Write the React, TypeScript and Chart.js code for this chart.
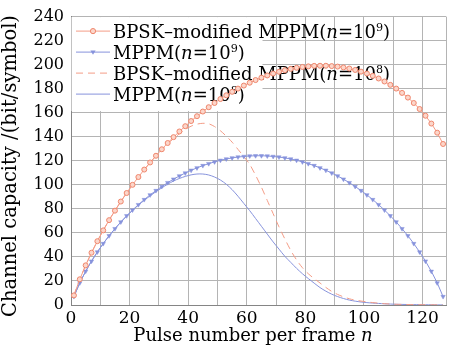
import React, { useEffect, useRef } from "react";
import { Chart, registerables } from "chart.js";

Chart.register(...registerables);

// Pulse number per frame (x values of the sampled points)
const nValues = [
  1, 3, 5, 7, 9, 11, 13, 15, 17, 19, 21, 23, 25, 27, 29, 31,
  33, 35, 37, 39, 41, 43, 45, 47, 49, 51, 53, 55, 57, 59, 61, 63,
  65, 67, 69, 71, 73, 75, 77, 79, 81, 83, 85, 87, 89, 91, 93, 95,
  97, 99, 101, 103, 105, 107, 109, 111, 113, 115, 117, 119, 121, 123, 125, 127,
];

// BPSK-modified MPPM (n=10^9)
const bpsk9 = [
  8, 21.4, 33, 43.5, 53.1, 62.1, 70.6, 78.5, 86.1, 93.2, 100, 106.5, 112.7, 118.6, 124.2, 129.6,
  134.8, 139.7, 144.4, 148.8, 153.1, 157.1, 161, 164.6, 168.1, 171.4, 174.5, 177.4, 180.1, 182.6, 185, 187.2,
  189.2, 191, 192.6, 194.1, 195.4, 196.5, 197.4, 198.1, 198.6, 199, 199.1, 199.1, 198.8, 198.4, 197.7, 196.8,
  195.6, 194.2, 192.6, 190.7, 188.5, 186, 183.2, 180.1, 176.5, 172.6, 168.1, 163.1, 157.5, 151, 143.4, 134,
];

// MPPM (n=10^9)
const mppm9 = [
  7, 18.4, 28, 36.5, 44.1, 51.1, 57.6, 63.5, 69.1, 74.2, 79, 83.5, 87.7, 91.6, 95.2, 98.6,
  101.8, 104.7, 107.4, 109.8, 112.1, 114.1, 116, 117.6, 119.1, 120.4, 121.5, 122.4, 123.1, 123.6, 124, 124.2,
  124.2, 124, 123.6, 123.1, 122.4, 121.5, 120.4, 119.1, 117.6, 116, 114.1, 112.1, 109.8, 107.4, 104.7, 101.8,
  98.6, 95.2, 91.6, 87.7, 83.5, 79, 74.2, 69.1, 63.5, 57.6, 51.1, 44.1, 36.5, 28, 18.4, 7,
];

// BPSK-modified MPPM (n=10^8)
const bpsk8 = [
  8, 21.4, 33, 43.5, 53.1, 62.1, 70.6, 78.5, 86.1, 93.2, 100, 106.5, 112.6, 118.4, 123.9, 129.1,
  134, 138.5, 142.5, 146, 148.8, 150.5, 151.2, 150.8, 148.5, 145, 140.5, 135.5, 129.5, 123.5, 117, 108,
  98, 87, 76, 65, 55, 45.5, 37.5, 31, 26, 22, 18.3, 14.6, 11.3, 8.8, 6.8, 5.2,
  4, 3.3, 2.6, 2, 1.5, 1.1, 0.8, 0.6, 0.5, 0.4, 0.3, 0.3, 0.2, 0.2, 0.1, 0.1,
];

// MPPM (n=10^8)
const mppm8 = [
  7, 18.4, 28, 36.5, 44.1, 51.1, 57.5, 63.4, 68.9, 74, 78.7, 83.1, 87.1, 90.8, 94.3, 97.5,
  100.5, 103.2, 105.3, 107, 108.3, 109, 109, 108.2, 106.5, 104, 100.5, 96, 90.5, 84.5, 78.5, 72,
  65.5, 59, 52.5, 46.5, 40.5, 35.5, 30.5, 26, 22, 18.2, 14.5, 11.5, 9, 7, 5.4, 4.1,
  3.2, 2.5, 2, 1.6, 1.3, 1, 0.8, 0.6, 0.5, 0.4, 0.3, 0.3, 0.2, 0.2, 0.1, 0.1,
];

const xGridValues = [0, 10, 20, 30, 40, 50, 60, 70, 80, 90, 100, 110, 120, 128];
const xLabelValues = [0, 20, 40, 60, 80, 100, 120];
const yTickValues = [0, 20, 40, 60, 80, 100, 120, 140, 160, 180, 200, 220, 240];

const seriesNames = [
  "BPSK–modified MPPM(n=10^9)",
  "MPPM(n=10^9)",
  "BPSK–modified MPPM(n=10^8)",
  "MPPM(n=10^8)",
];
const legendPrefix = ["BPSK–modified MPPM(", "MPPM(", "BPSK–modified MPPM(", "MPPM("];
const legendExponent = ["9", "9", "8", "8"];
const xTitle = "Pulse number per frame ";
const xTitleVar = "n";
const yTitle = "Channel capacity /(bit/symbol)";

const FONT = '"DejaVu Serif"';
const ORANGE = "#f49c86";
const ORANGE_DARK = "#ef866c";
const ORANGE_FILL = "#fcd6ca";
const BLUE = "#8793dc";
const GRID = "#b4b4b4";
const AXIS = "#858585";

type Part = { t: string; i?: boolean; s?: boolean };

function drawRich(ctx: CanvasRenderingContext2D, x: number, y: number, parts: Part[], size: number) {
  let cx = x;
  for (const p of parts) {
    const fs = p.s ? size * 0.62 : size;
    ctx.font = `${p.i ? "italic " : ""}${fs}px ${FONT}`;
    ctx.fillText(p.t, cx, p.s ? y - size * 0.42 : y);
    cx += ctx.measureText(p.t).width;
  }
}

function drawMarker(ctx: CanvasRenderingContext2D, kind: number, x: number, y: number) {
  ctx.save();
  ctx.lineWidth = 1;
  if (kind === 0) {
    ctx.beginPath();
    ctx.arc(x, y, 2.6, 0, Math.PI * 2);
    ctx.fillStyle = ORANGE_FILL;
    ctx.strokeStyle = ORANGE_DARK;
    ctx.fill();
    ctx.stroke();
  } else if (kind === 1) {
    ctx.beginPath();
    ctx.moveTo(x - 2.6, y - 1.6);
    ctx.lineTo(x + 2.6, y - 1.6);
    ctx.lineTo(x, y + 2.6);
    ctx.closePath();
    ctx.fillStyle = BLUE;
    ctx.fill();
  }
  ctx.restore();
}

const legendPlugin = {
  id: "customLegend",
  beforeDatasetsDraw(chart: any) {
    const { ctx, chartArea } = chart;
    const L = chartArea.left;
    const T = chartArea.top;
    ctx.save();
    ctx.fillStyle = "#ffffff";
    ctx.fillRect(L + 0.5, T + 0.5, 191, 94);
    const colors = [ORANGE, BLUE, ORANGE, BLUE];
    for (let i = 0; i < 4; i++) {
      const cy = T + 14 + 21 * i + 0.5;
      ctx.beginPath();
      ctx.strokeStyle = colors[i];
      ctx.lineWidth = 1;
      ctx.setLineDash(i === 2 ? [7, 5] : []);
      ctx.moveTo(L + 5, cy);
      ctx.lineTo(L + 39, cy);
      ctx.stroke();
      ctx.setLineDash([]);
      drawMarker(ctx, i, L + 22, cy);
      ctx.fillStyle = "#000";
      ctx.textBaseline = "alphabetic";
      ctx.textAlign = "left";
      drawRich(
        ctx,
        L + 42,
        cy + 7,
        [
          { t: legendPrefix[i] },
          { t: "n", i: true },
          { t: "=10" },
          { t: legendExponent[i], s: true },
          { t: ")" },
        ],
        18
      );
    }
    ctx.restore();
  },
};

const titlePlugin = {
  id: "axisTitles",
  afterDraw(chart: any) {
    const { ctx } = chart;
    ctx.save();
    ctx.fillStyle = "#000";
    ctx.textBaseline = "alphabetic";
    ctx.textAlign = "left";
    ctx.font = `18px ${FONT}`;
    const w1 = ctx.measureText(xTitle).width;
    ctx.font = `italic 18px ${FONT}`;
    const w2 = ctx.measureText(xTitleVar).width;
    const startX = 253 - (w1 + w2) / 2;
    drawRich(ctx, startX, 341, [{ t: xTitle }, { t: xTitleVar, i: true }], 18);

    ctx.translate(11, 166);
    ctx.rotate(-Math.PI / 2);
    ctx.textAlign = "center";
    ctx.textBaseline = "middle";
    ctx.font = `19.5px ${FONT}`;
    ctx.fillText(yTitle, 0, 0);
    ctx.restore();
  },
};

export default function App() {
  const ref = useRef<HTMLCanvasElement>(null);

  useEffect(() => {
    const canvas = ref.current;
    if (!canvas) return;
    const pts = (ys: number[]) => nValues.map((n, i) => ({ x: n, y: ys[i] }));
    const chart = new Chart(canvas, {
      type: "line",
      data: {
        datasets: [
          {
            label: seriesNames[0],
            data: pts(bpsk9),
            borderColor: ORANGE,
            borderWidth: 1,
            pointStyle: "circle",
            pointRadius: 2.5,
            pointBorderColor: ORANGE_DARK,
            pointBackgroundColor: ORANGE_FILL,
            pointBorderWidth: 1,
            tension: 0,
          },
          {
            label: seriesNames[1],
            data: pts(mppm9),
            borderColor: BLUE,
            borderWidth: 1,
            pointStyle: "triangle",
            pointRotation: 180,
            pointRadius: 2.5,
            pointBorderColor: BLUE,
            pointBackgroundColor: BLUE,
            pointBorderWidth: 0.5,
            tension: 0,
          },
          {
            label: seriesNames[2],
            data: pts(bpsk8),
            borderColor: ORANGE,
            borderWidth: 1,
            borderDash: [7, 5],
            pointRadius: 0,
            tension: 0.3,
          },
          {
            label: seriesNames[3],
            data: pts(mppm8),
            borderColor: BLUE,
            borderWidth: 1,
            pointRadius: 0,
            tension: 0.3,
          },
        ],
      },
      options: {
        responsive: false,
        animation: false,
        events: [],
        layout: { padding: { top: 15, right: 3, left: 0, bottom: 0 } },
        plugins: { legend: { display: false }, tooltip: { enabled: false } },
        scales: {
          x: {
            type: "linear",
            min: 0,
            max: 128,
            afterBuildTicks: (s: any) => {
              s.ticks = xGridValues.map((v) => ({ value: v }));
            },
            afterFit: (s: any) => {
              s.height = 45;
            },
            ticks: {
              autoSkip: false,
              maxRotation: 0,
              minRotation: 0,
              padding: 3,
              color: "#000",
              font: { family: FONT, size: 17 },
              callback: (v: any) => (xLabelValues.includes(Number(v)) ? String(v) : ""),
            },
            grid: { color: GRID, drawTicks: false },
            border: { color: AXIS },
          },
          y: {
            type: "linear",
            min: 0,
            max: 240,
            afterBuildTicks: (s: any) => {
              s.ticks = yTickValues.map((v) => ({ value: v }));
            },
            afterFit: (s: any) => {
              s.width = 71;
            },
            ticks: {
              autoSkip: false,
              padding: 7,
              color: "#000",
              font: { family: FONT, size: 16 },
              callback: (v: any) => String(v),
            },
            grid: { color: GRID, drawTicks: false },
            border: { color: AXIS },
          },
        },
      },
      plugins: [legendPlugin, titlePlugin],
    });
    return () => chart.destroy();
  }, []);

  return (
    <div style={{ position: "fixed", left: 0, top: 0, width: 451, height: 350, background: "#fff" }}>
      <canvas ref={ref} width={451} height={350} style={{ display: "block" }} />
    </div>
  );
}
